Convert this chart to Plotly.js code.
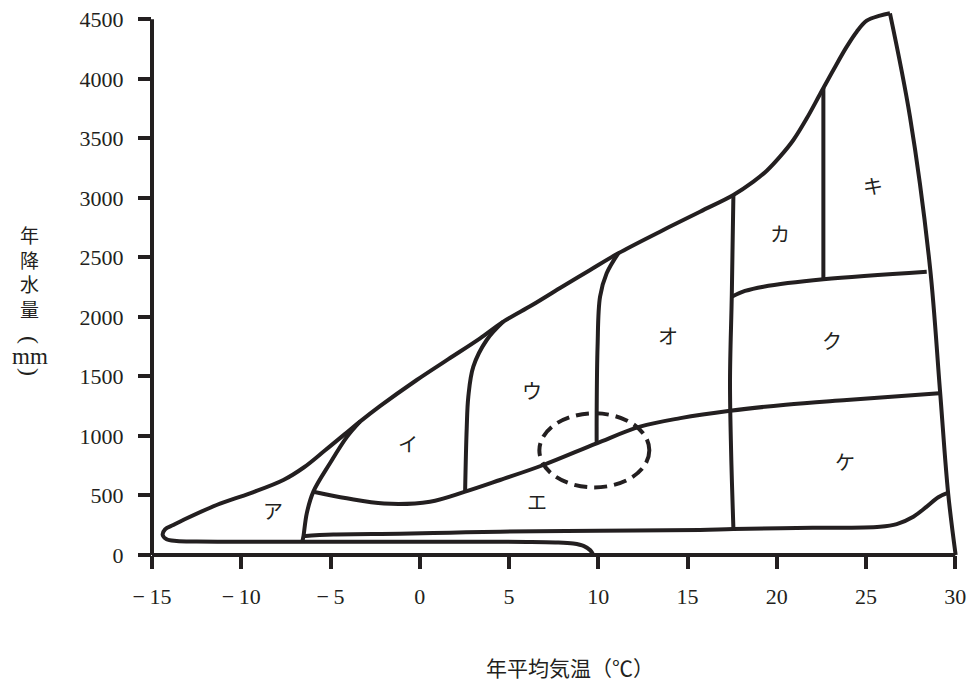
<!DOCTYPE html>
<html>
<head>
<meta charset="utf-8">
<script src="https://cdn.plot.ly/plotly-3.0.1.min.js"></script>
<style>html,body{margin:0;padding:0;background:#fff;}#chart{width:976px;height:683px;}</style>
</head>
<body>
<div id="chart"></div>
<script>
// ---- data (annual mean temperature °C, annual precipitation mm) ----
const outerT = [9.72, 9.55, 9.2, 8.6, 7.6, 6, 3, 0, -3, -6, -9, -12.5, -13.62, -14.18, -14.40, -14.27, -13.81, -13.25, -11.38, -9.51, -7.64, -6.5, -5.3, -4.2, -3.35, -2.23, -0.17, 1.6, 3.38, 4.68, 6.3, 7.86, 9.5, 11.12, 13.46, 15.70, 17.57, 18.69, 19.44, 20.18, 20.93, 21.68, 22.42, 23.17, 23.92, 24.48, 25.04, 25.78, 26.34];
const outerP = [0, 40, 75, 96, 106, 110, 111, 111, 112, 112, 112, 113, 118, 132, 168, 216, 252, 294, 420, 518, 630, 735, 880, 1015, 1120, 1250, 1470, 1645, 1820, 1960, 2100, 2243, 2390, 2534, 2716, 2884, 3024, 3136, 3228, 3346, 3486, 3668, 3870, 4074, 4270, 4396, 4488, 4530, 4550];
const rightT = [26.34, 27.46, 28.58, 29.14, 29.6, 30.02];
const rightP = [4550, 3682, 2422, 1386, 518, 0];
const desertT = [-6.56, -4.84, -1.11, 1.69, 4.50, 10, 15.70, 17.57, 22, 25.78, 26.72, 27.65, 28.40, 29.05, 29.61];
const desertP = [158, 172, 178, 187, 196, 204, 210, 218, 228, 238, 260, 322, 406, 485, 523];
const aiT = [-6.58, -6.52, -6.33, -5.96, -5.03, -4.09, -3.35];
const aiP = [112, 154, 350, 532, 770, 990, 1120];
const ieT = [-5.96, -4.09, -2.0, 0.57, 2.54, 4.5, 6.92, 9.91, 12.34, 14.6, 17.38, 20.5, 23.92, 29.1];
const ieP = [532, 476, 432, 448, 532, 630, 756, 938, 1078, 1150, 1212, 1262, 1302, 1358];
const iuT = [2.54, 2.63, 2.72, 3.00, 3.75, 4.68];
const iuP = [532, 1064, 1330, 1582, 1806, 1960];
const uoT = [9.91, 9.91, 9.96, 10.10, 10.47, 11.12];
const uoP = [938, 1190, 1750, 2170, 2366, 2534];
const okT = [17.57, 17.44, 17.38, 17.48, 17.57];
const okP = [224, 882, 1470, 2184, 3024];
const kkT = [22.61, 22.61];
const kkP = [2316, 3922];
const kuT = [17.48, 18.22, 19.25, 22.61, 28.40];
const kuP = [2170, 2218, 2254, 2316, 2380];
const ellipseCenter = [9.78, 879];
const ellipseRadius = [3.08, 311];
const labelText = ['ア','イ','ウ','エ','オ','カ','キ','ク','ケ'];
const labelT = [-8.20, -0.64, 6.27, 6.59, 13.92, 20.18, 25.41, 23.09, 23.82];
const labelP = [378, 938, 1386, 448, 1848, 2702, 3108, 1806, 784];
const xTickVals = [-15, -10, -5, 0, 5, 10, 15, 20, 25, 30];
const xTickText = ['\u2212\u200915', '\u2212\u200910', '\u2212\u20095', '0', '5', '10', '15', '20', '25', '30'];
const yTickVals = [0, 500, 1000, 1500, 2000, 2500, 3000, 3500, 4000, 4500];
const xTitle = '年平均気温（℃）';
const yTitleMain = ['年','降','水','量'];
const yTitleUnit = ['(', 'mm', ')'];

// ---- drawing ----
const INK = '#231f20';
const SERIF = 'Liberation Serif, Times New Roman, DejaVu Serif, serif';
const X_RANGE = [-15, 30.6];
const Y_RANGE = [0, 4620];
const lineStyle = {color: INK, width: 4, shape: 'spline', smoothing: 1};
function seg(t, p) {
  return {x: t, y: p, type: 'scatter', mode: 'lines', line: lineStyle, hoverinfo: 'skip', showlegend: false};
}
const traces = [
  seg(outerT, outerP),
  seg(rightT, rightP),
  seg(desertT, desertP),
  seg(aiT, aiP),
  seg(ieT, ieP),
  seg(iuT, iuP),
  seg(uoT, uoP),
  seg(okT, okP),
  Object.assign(seg(kkT, kkP), {line: {color: INK, width: 4}}),
  seg(kuT, kuP)
];

const xEnd = (xTickVals[xTickVals.length - 1] - X_RANGE[0]) / (X_RANGE[1] - X_RANGE[0]);
const yEnd = (yTickVals[yTickVals.length - 1] - Y_RANGE[0]) / (Y_RANGE[1] - Y_RANGE[0]);

const shapes = [
  {type: 'line', xref: 'x domain', yref: 'y domain', x0: 0, x1: 0, y0: 0, y1: yEnd, line: {color: INK, width: 4}},
  {type: 'line', xref: 'x domain', yref: 'y domain', x0: 0, x1: xEnd, y0: 0, y1: 0, line: {color: INK, width: 4}},
  {type: 'circle', xref: 'x', yref: 'y',
   x0: ellipseCenter[0] - ellipseRadius[0], x1: ellipseCenter[0] + ellipseRadius[0],
   y0: ellipseCenter[1] - ellipseRadius[1], y1: ellipseCenter[1] + ellipseRadius[1],
   line: {color: INK, width: 4, dash: '13px,7px'}}
];

const annotations = labelText.map((s, i) => ({
  x: labelT[i], y: labelP[i], xref: 'x', yref: 'y', text: s, showarrow: false,
  font: {family: 'Noto Sans CJK JP', size: 20, color: INK}
}));
annotations.push({
  xref: 'paper', yref: 'paper', x: 0.514, y: -0.2036, text: xTitle, showarrow: false,
  font: {family: 'Noto Sans CJK JP', size: 21, color: INK}, xanchor: 'center', yanchor: 'middle'
});
annotations.push({
  xref: 'paper', yref: 'paper', x: -0.150, y: (555 - 271) / 550, text: yTitleMain.join('<br>'), showarrow: false,
  font: {family: 'Noto Sans CJK JP', size: 19, color: INK}, xanchor: 'center', yanchor: 'middle'
});
// unit "(mm)" written vertically: brackets turned a quarter turn, as in vertical Japanese text
const unitY = [340, 356, 372];
yTitleUnit.forEach((s, i) => annotations.push({
  xref: 'paper', yref: 'paper', x: -0.150, y: (555 - unitY[i]) / 550, text: s, showarrow: false,
  textangle: s === 'mm' ? 0 : 90,
  font: {family: SERIF, size: s === 'mm' ? 23 : 24, color: INK},
  xanchor: 'center', yanchor: 'middle'
}));

const axisCommon = {
  showgrid: false, zeroline: false, showline: false,
  ticks: 'outside', ticklen: 13, tickwidth: 4, tickcolor: INK,
  tickfont: {family: SERIF, size: 22, color: INK},
  fixedrange: true
};
const layout = {
  width: 976, height: 683,
  margin: {l: 152, r: 10, t: 5, b: 128},
  paper_bgcolor: '#ffffff', plot_bgcolor: '#ffffff',
  font: {family: SERIF, size: 22, color: INK},
  showlegend: false, hovermode: false,
  xaxis: Object.assign({}, axisCommon, {range: X_RANGE, tickmode: 'array', tickvals: xTickVals, ticktext: xTickText, ticklabelstandoff: 9}),
  yaxis: Object.assign({}, axisCommon, {range: Y_RANGE, tickmode: 'array', tickvals: yTickVals, ticktext: yTickVals.map(String), ticklabelstandoff: 10}),
  shapes: shapes,
  annotations: annotations
};
Plotly.newPlot('chart', traces, layout, {staticPlot: true, displayModeBar: false});
</script>
</body>
</html>
